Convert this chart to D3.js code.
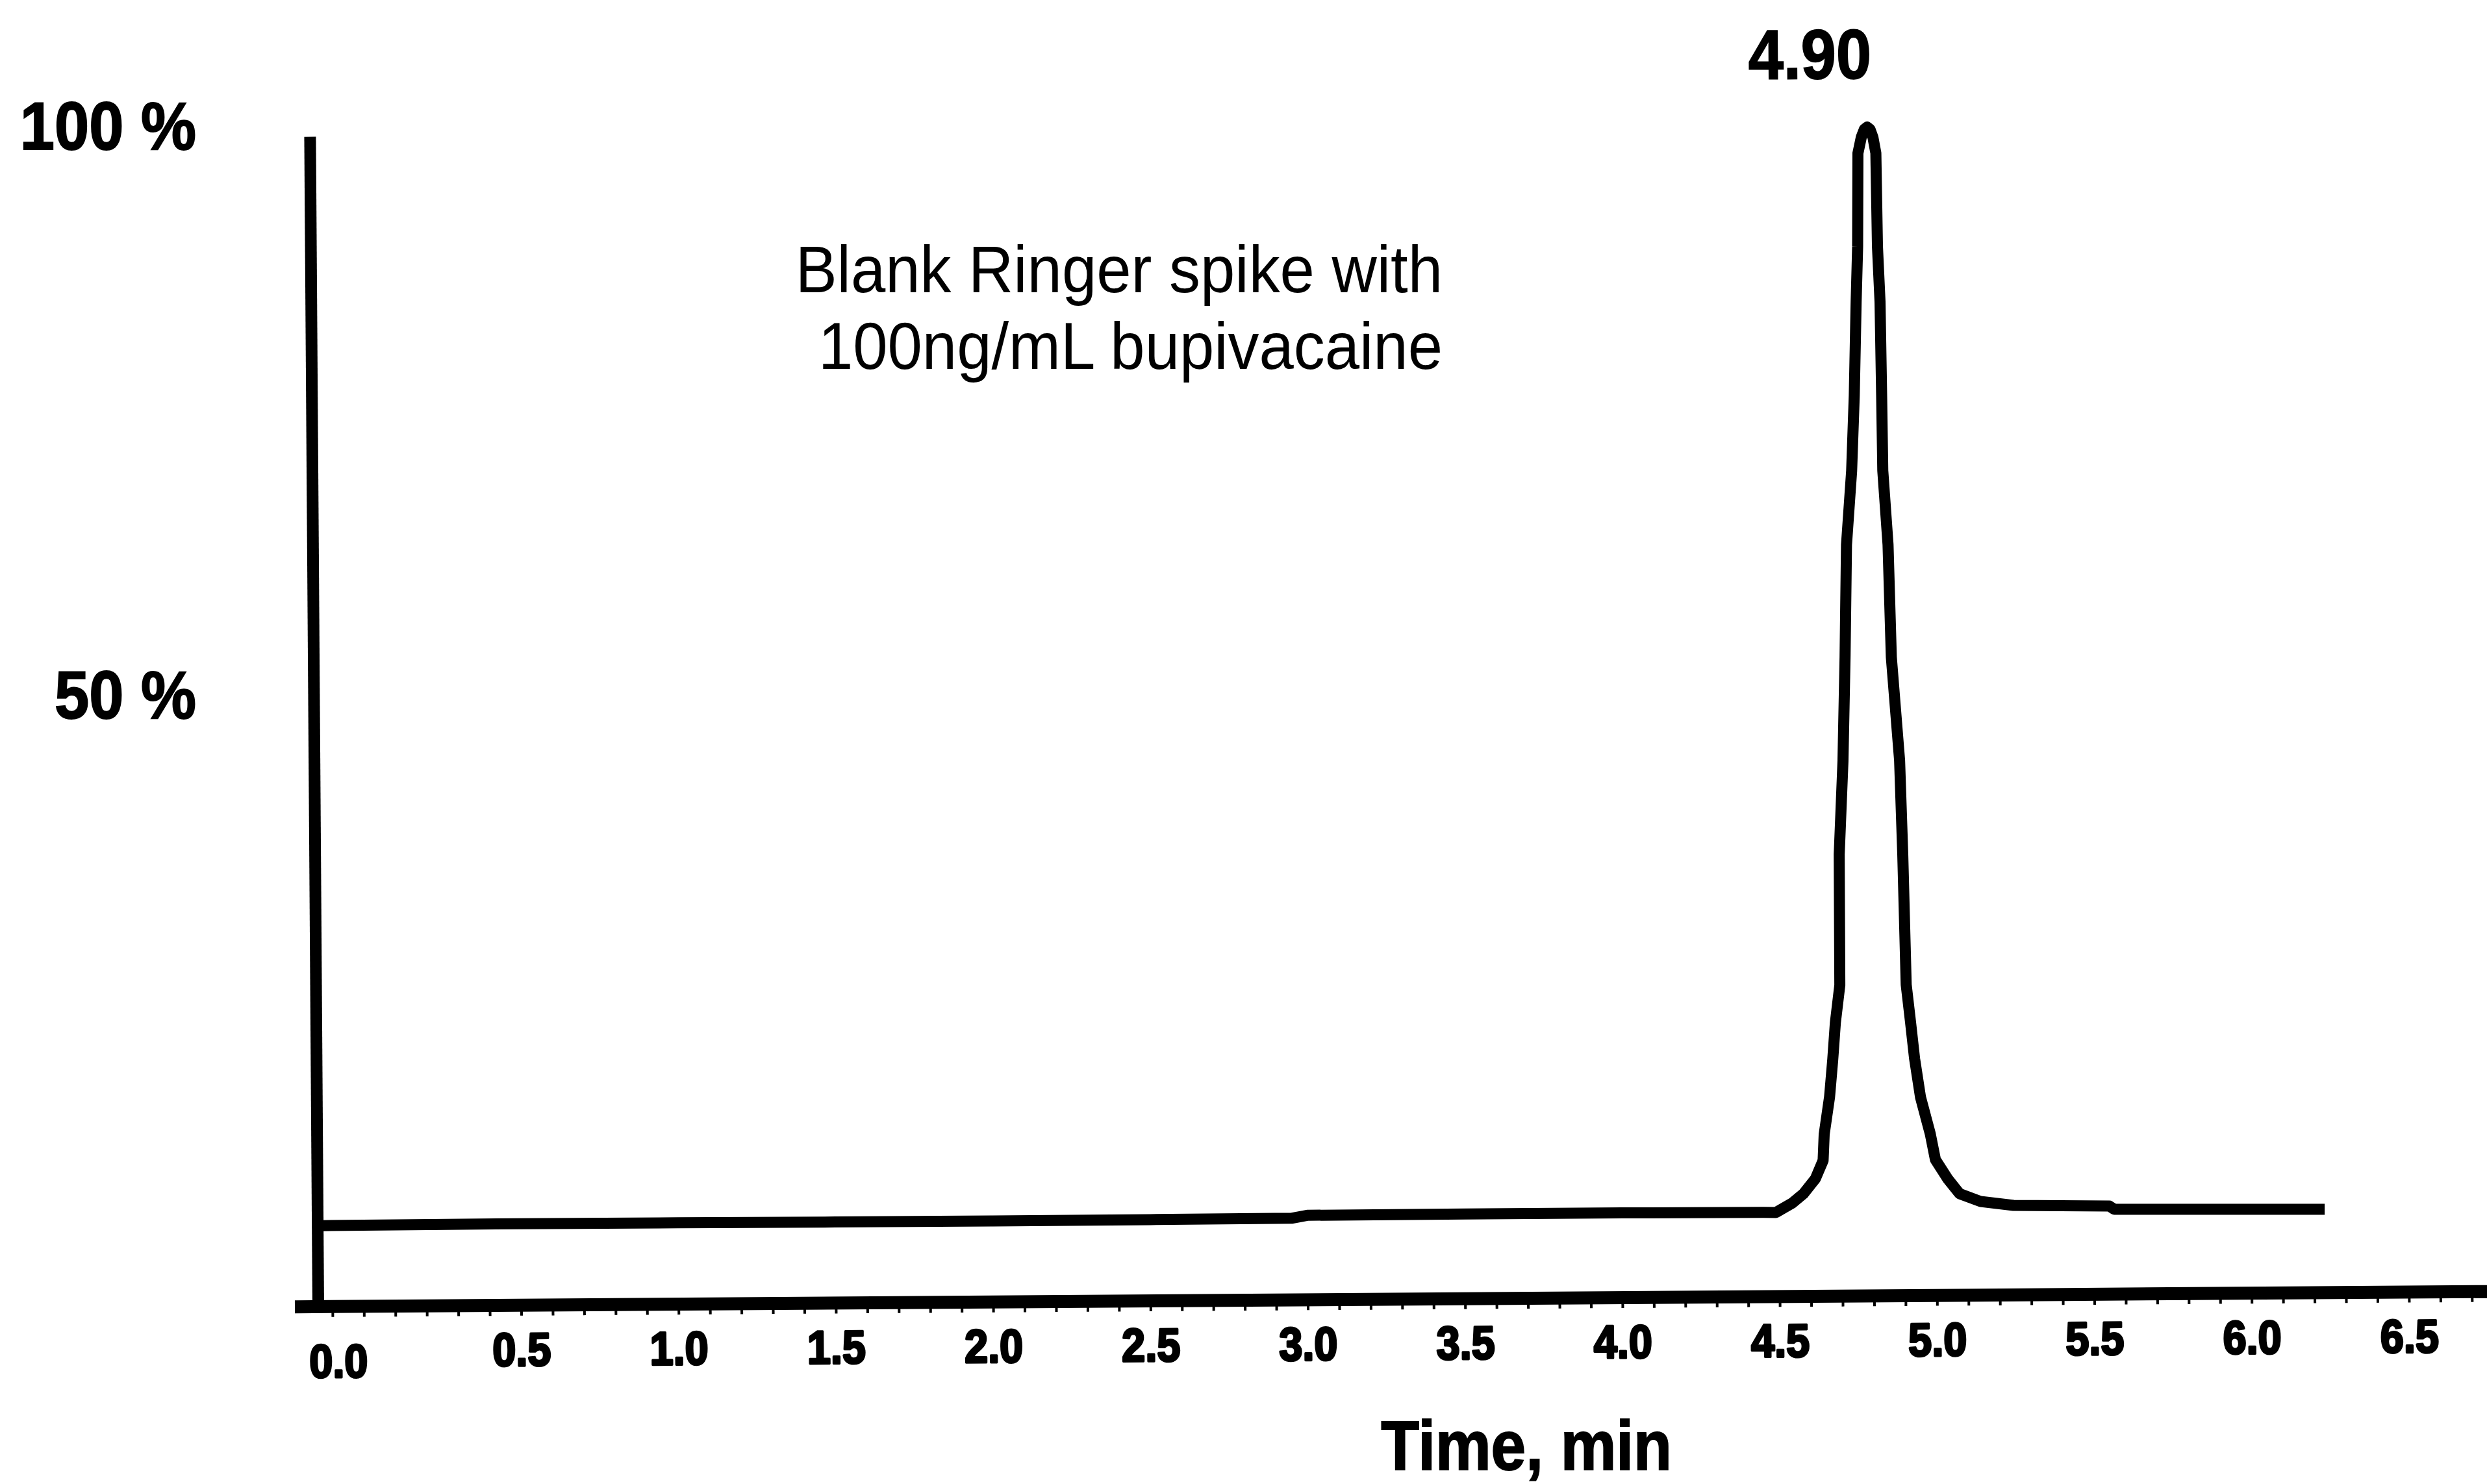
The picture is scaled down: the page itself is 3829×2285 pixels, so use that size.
<!DOCTYPE html>
<html>
<head>
<meta charset="utf-8">
<script src="https://cdn.jsdelivr.net/npm/d3@7"></script>
<style>
  body { margin: 0; background: #fff; }
  svg { display: block; background: #fff; }
</style>
</head>
<body>
<svg></svg>
<script>
let width = 3829, height = 2285;

let svg = d3.select("svg")
    .attr("width", width)
    .attr("height", height);

// chromatogram trace: retention time (min) and relative intensity (%)
let rt = [-0.13, 0.5, 1.0, 1.5, 2.0, 2.5, 2.95, 3.0, 3.5, 4.0,
    4.45, 4.49, 4.543, 4.578, 4.616, 4.641, 4.645, 4.663, 4.674, 4.683,
    4.698, 4.699, 4.713, 4.722, 4.729, 4.747, 4.757, 4.765, 4.771, 4.774,
    4.785, 4.795, 4.804, 4.813, 4.822, 4.831, 4.834, 4.841, 4.844, 4.846,
    4.861, 4.869, 4.893, 4.901, 4.909, 4.922, 4.934, 4.952, 4.982, 4.998,
    5.037, 5.074, 5.141, 5.245, 5.55, 5.565, 6.234];
let intensity = [3.30, 3.35, 3.33, 3.30, 3.30, 3.32, 3.35, 3.60, 3.62, 3.62,
    3.58, 3.56, 4.4, 5.2, 6.5, 8.1, 10.4, 13.7, 17.0, 20.2,
    23.5, 35.0, 43.2, 52.4, 62.2, 68.7, 75.3, 83.5, 88.4, 96.6,
    98.0, 98.7, 98.9, 98.7, 98.0, 96.6, 88.4, 83.5, 75.3, 68.7,
    62.2, 52.3, 43.2, 34.9, 23.5, 20.2, 17.0, 13.6, 10.4, 8.1,
    6.4, 5.1, 4.4, 4.04, 3.92, 3.64, 3.5];

let xTicks = [0, 0.5, 1.0, 1.5, 2.0, 2.5, 3.0, 3.5, 4.0, 4.5, 5.0, 5.5, 6.0, 6.5];
let yTicks = [50, 100];
let yTickLabels = ["50 %", "100 %"];
let peakLabel = "4.90";
let note = ["Blank Ringer spike with", "100ng/mL bupivacaine"];
let xTitle = "Time, min";

let font = "'Liberation Sans', Arial, Helvetica, sans-serif";

// scales (plot frame before the scan tilt)
let x = d3.scaleLinear().domain([-0.145, 6.75]).range([490, 3830]);
let y = d3.scaleLinear().domain([0, 100]).range([1945, 193]);
let axisY = 2012;

// small helper for the slightly condensed lettering of the scan
function label(parent, px, py, str, size, weight, squeeze, anchor) {
    return parent.append("text")
        .attr("transform", `translate(${px},${py}) scale(${squeeze},1)`)
        .attr("text-anchor", anchor)
        .style("font-family", font)
        .style("font-size", size + "px")
        .style("font-weight", weight)
        .attr("fill", "#000")
        .text(str);
}

// the scanned figure is tilted a little
let plot = svg.append("g")
    .attr("transform", `rotate(-0.4, ${x(-0.145)}, ${axisY})`);

// minor ticks every 0.1 min
plot.append("g")
    .attr("transform", `translate(0,${axisY})`)
    .call(d3.axisBottom(x).tickValues(x.ticks(70)).tickSize(16).tickFormat(""))
    .call(g => g.select(".domain").remove())
    .call(g => g.selectAll("line").attr("stroke", "#000").attr("stroke-width", 4));

// labelled ticks
plot.append("g")
    .attr("transform", `translate(0,${axisY})`)
    .call(d3.axisBottom(x).tickValues(xTicks).tickSize(0).tickFormat(d3.format(".1f")))
    .call(g => g.select(".domain").remove())
    .call(g => g.selectAll("text")
        .attr("y", 0)
        .attr("dy", null)
        .attr("transform", d => d === 0 ? "translate(-40,109) scale(0.9,1)" : "translate(0,93) scale(0.9,1)")
        .attr("fill", "#000")
        .attr("stroke", "#000")
        .attr("stroke-width", 3.5)
        .attr("stroke-linejoin", "round")
        .style("font-family", font)
        .style("font-size", "72px")
        .style("font-weight", "bold"));

// axis lines
plot.append("line")
    .attr("x1", 454).attr("x2", 3900)
    .attr("y1", axisY).attr("y2", axisY)
    .attr("stroke", "#000")
    .attr("stroke-width", 20);

plot.append("line")
    .attr("x1", x(-0.145)).attr("x2", x(-0.145))
    .attr("y1", axisY + 8).attr("y2", y(99))
    .attr("stroke", "#000")
    .attr("stroke-width", 18);

// trace
let points = rt.map((t, i) => [t, intensity[i]]);
let line = d3.line()
    .x(d => x(d[0]))
    .y(d => y(d[1]));

plot.append("path")
    .datum(points)
    .attr("d", line)
    .attr("fill", "none")
    .attr("stroke", "#000")
    .attr("stroke-width", 17)
    .attr("stroke-linejoin", "round");

// apex label
let apex = points.reduce((a, b) => b[1] > a[1] ? b : a);
label(plot, x(apex[0]) + 7, y(apex[1]) - 75, peakLabel, 108, "bold", 0.9, "end")
    .attr("stroke", "#000").attr("stroke-width", 2);

// y labels
yTicks.forEach((v, i) => {
    label(svg, 302, y(v) + 37, yTickLabels[i], 104, "bold", 0.92, "end")
        .attr("stroke", "#000").attr("stroke-width", 2);
});

// annotation
note.forEach((s, i) => {
    label(svg, 2221, 450 + i * 118, s, 102, "normal", 0.94, "end");
});

// x title
label(svg, 2350, 2263, xTitle, 107, "bold", 0.9, "middle")
    .attr("stroke", "#000").attr("stroke-width", 2);
</script>
</body>
</html>
